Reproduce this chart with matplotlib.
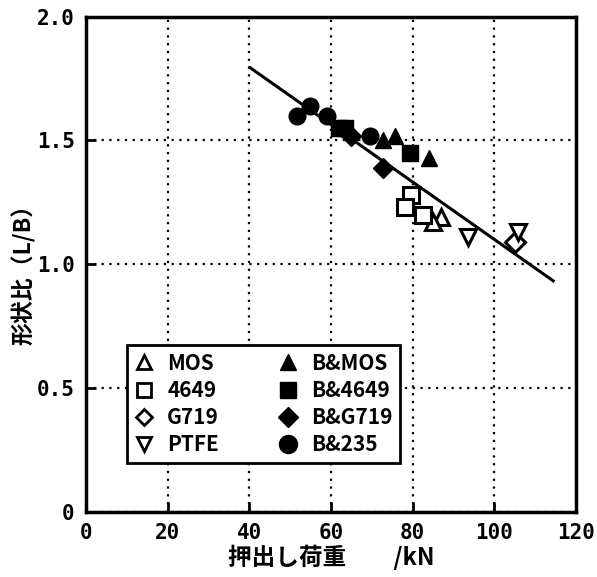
import matplotlib
matplotlib.use('Agg')
import matplotlib.pyplot as plt
from matplotlib.lines import Line2D

plt.rcParams['font.family'] = ['Noto Sans CJK JP', 'DejaVu Sans']
plt.rcParams['font.weight'] = 'bold'
mono = ['DejaVu Sans Mono', 'DejaVu Sans']

# data (load kN, shape ratio L/B)
mos_x = [87.0, 85.0]
mos_y = [1.19, 1.17]
p4649_x = [79.5, 78.2, 82.5]
p4649_y = [1.28, 1.23, 1.20]
g719_x = [105.0]
g719_y = [1.09]
ptfe_x = [93.5, 105.8]
ptfe_y = [1.11, 1.13]
bmos_x = [72.7, 75.7, 84.0]
bmos_y = [1.50, 1.52, 1.43]
b4649_x = [62.0, 63.5, 79.4]
b4649_y = [1.55, 1.55, 1.45]
bg719_x = [65.0, 72.7]
bg719_y = [1.52, 1.39]
b235_x = [51.7, 54.9, 59.0, 69.6]
b235_y = [1.60, 1.64, 1.60, 1.52]
fit_x = [40.2, 114.4]
fit_y = [1.794, 0.933]

fig = plt.figure(figsize=(5.97, 5.77), dpi=100)
ax = fig.add_axes([0.144, 0.113, 0.821, 0.858])

ax.plot(fit_x, fit_y, color='black', lw=2.2, zorder=2)

ms = 12
op = dict(ls='none', mfc='white', mec='black', mew=2.2, ms=ms, zorder=3)
fp = dict(ls='none', color='black', ms=ms, zorder=4)
ax.plot(mos_x, mos_y, marker='^', **op)
ax.plot(p4649_x, p4649_y, marker='s', **op)
ax.plot(g719_x, g719_y, marker='D', **dict(op, ms=10))
ax.plot(ptfe_x, ptfe_y, marker='v', **op)
ax.plot(bmos_x, bmos_y, marker='^', **fp)
ax.plot(b4649_x, b4649_y, marker='s', **fp)
ax.plot(bg719_x, bg719_y, marker='D', **dict(fp, ms=10))
ax.plot(b235_x, b235_y, marker='o', **fp)

ax.set_xlim(0, 120)
ax.set_ylim(0, 2.0)
ax.set_xticks([0, 20, 40, 60, 80, 100, 120])
ax.set_yticks([0, 0.5, 1.0, 1.5, 2.0])
ax.set_yticklabels(['0', '0.5', '1.0', '1.5', '2.0'])
ax.grid(True, color='black', ls=(0, (1, 2.5)), lw=1.6)
ax.tick_params(direction='in', length=7, width=2, labelsize=15, pad=8)
for lab in ax.get_xticklabels() + ax.get_yticklabels():
    lab.set_fontweight('bold')
    lab.set_family(mono)
for s in ax.spines.values():
    s.set_linewidth(2.5)

ax.set_xlabel('押出し荷重　　/kN', fontsize=17, fontweight='bold', labelpad=1)
ax.set_ylabel('形状比（L/B）', fontsize=16.5, fontweight='bold')
ax.yaxis.set_label_coords(-0.102, 0.49)

lm = 10
handles = [
    Line2D([], [], marker='^', ls='none', mfc='white', mec='black', mew=2, ms=lm),
    Line2D([], [], marker='s', ls='none', mfc='white', mec='black', mew=2, ms=lm),
    Line2D([], [], marker='D', ls='none', mfc='white', mec='black', mew=2, ms=lm - 2),
    Line2D([], [], marker='v', ls='none', mfc='white', mec='black', mew=2, ms=lm),
    Line2D([], [], marker='^', ls='none', color='black', ms=lm + 2),
    Line2D([], [], marker='s', ls='none', color='black', ms=lm + 2),
    Line2D([], [], marker='D', ls='none', color='black', ms=lm),
    Line2D([], [], marker='o', ls='none', color='black', ms=lm + 3),
]
labels = ['MOS', '4649', 'G719', 'PTFE', 'B&MOS', 'B&4649', 'B&G719', 'B&235']
leg = ax.legend(handles, labels, ncol=2, loc='lower left',
                bbox_to_anchor=(0.083, 0.099, 0.557, 0.279), mode='expand',
                fancybox=False, framealpha=1, edgecolor='black',
                prop={'size': 15, 'weight': 'bold'}, handlelength=1.0,
                handletextpad=0.6, columnspacing=1.5, labelspacing=0.3,
                borderaxespad=0, borderpad=0.35)
leg.get_frame().set_linewidth(2)

fig.savefig('out.png', dpi=100)
